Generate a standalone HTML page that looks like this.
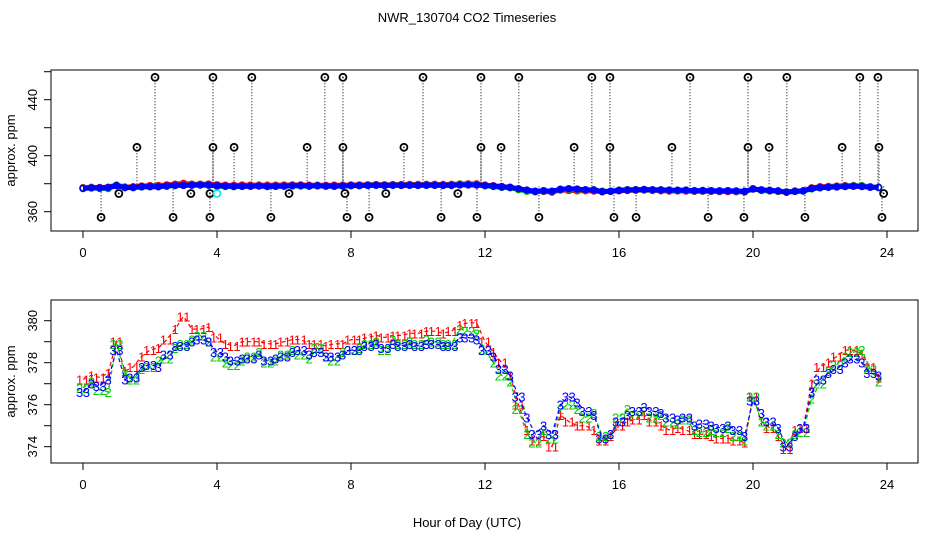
<!DOCTYPE html>
<html><head><meta charset="utf-8"><style>
body{margin:0;background:#fff}
svg text{font-family:"Liberation Sans",sans-serif;font-size:13px}
</style></head><body>
<svg id="chart" width="936" height="540" xmlns="http://www.w3.org/2000/svg">
<rect width="936" height="540" fill="#fff"/>
<text x="467" y="22" text-anchor="middle">NWR_130704  CO2 Timeseries</text>
<text x="467" y="527" text-anchor="middle">Hour of Day (UTC)</text>
<g id="topPanel"></g>
<g id="botPanel"></g>
</svg>
<script>
const hours=[0,0.25,0.5,0.75,1,1.25,1.5,1.75,2,2.25,2.5,2.75,3,3.25,3.5,3.75,4,4.25,4.5,4.75,5,5.25,5.5,5.75,6,6.25,6.5,6.75,7,7.25,7.5,7.75,8,8.25,8.5,8.75,9,9.25,9.5,9.75,10,10.25,10.5,10.75,11,11.25,11.5,11.75,12,12.25,12.5,12.75,13,13.25,13.5,13.75,14,14.25,14.5,14.75,15,15.25,15.5,15.75,16,16.25,16.5,16.75,17,17.25,17.5,17.75,18,18.25,18.5,18.75,19,19.25,19.5,19.75,20,20.25,20.5,20.75,21,21.25,21.5,21.75,22,22.25,22.5,22.75,23,23.25,23.5,23.75];
const series3=[376.6,377.0,376.9,377.2,378.6,377.2,377.3,377.8,377.9,377.8,378.4,378.8,378.8,379.0,379.1,379.0,378.5,378.3,378.1,378.2,378.2,378.4,378.1,378.2,378.3,378.5,378.6,378.4,378.5,378.3,378.3,378.4,378.6,378.6,378.8,378.9,378.7,378.9,378.8,378.9,378.8,378.9,378.9,378.8,378.8,379.2,379.2,379.1,378.6,378.3,377.7,377.4,376.4,375.4,374.6,375.0,374.6,376.0,376.4,376.1,375.7,375.5,374.4,374.6,375.2,375.5,375.7,375.9,375.7,375.6,375.4,375.3,375.4,375.0,375.1,375.0,374.9,375.0,374.8,374.5,376.2,375.6,375.2,374.9,374.0,374.5,374.9,376.6,377.2,377.5,377.7,378.0,378.2,378.0,377.5,377.4];
const series1=[377.2,377.4,377.3,377.5,379.0,377.6,377.8,378.3,378.6,378.7,379.1,379.6,380.2,379.6,379.6,379.7,379.2,378.9,378.8,379.0,379.0,379.0,378.9,378.9,379.0,379.1,379.1,378.9,378.9,378.8,378.9,378.9,379.1,379.1,379.2,379.3,379.2,379.3,379.3,379.4,379.4,379.5,379.5,379.4,379.5,379.8,379.9,379.9,379.0,378.5,378.0,377.4,376.0,374.8,374.3,374.5,374.0,375.5,375.2,375.0,375.0,374.8,374.3,374.5,375.0,375.2,375.3,375.5,375.2,375.0,374.8,374.9,374.8,374.6,374.6,374.5,374.4,374.4,374.3,374.2,376.4,375.2,374.9,374.5,373.9,374.8,374.9,377.0,377.8,378.0,378.3,378.6,378.6,378.4,377.8,377.3];
const series2=[376.8,377.1,376.7,376.6,378.9,377.5,377.2,377.7,377.8,378.1,378.2,378.7,378.9,379.1,379.3,379.0,378.3,378.0,377.9,378.1,378.3,378.5,378.0,378.1,378.4,378.6,378.4,378.2,378.7,378.3,378.1,378.5,378.6,378.7,378.9,379.0,378.6,379.1,378.9,379.0,378.9,379.1,379.0,378.9,378.9,379.6,379.5,379.4,378.6,378.0,377.4,377.1,375.8,374.6,374.2,374.8,374.4,375.8,376.0,375.8,375.4,375.6,374.5,374.6,375.4,375.8,375.5,375.7,375.4,375.5,375.2,375.1,375.3,374.8,374.7,374.8,374.7,374.9,374.5,374.3,376.4,375.2,375.0,374.6,374.2,374.6,374.7,376.3,377.0,377.6,377.9,378.3,378.5,378.6,377.7,377.1];
const outHours=[2.15,3.88,5.04,7.22,7.76,10.15,11.88,13.01,15.19,15.73,18.12,19.85,21.01,23.19,23.73,1.61,3.88,4.51,6.69,7.76,9.58,11.88,12.48,14.66,15.73,17.58,19.85,20.48,22.66,23.76,1.07,3.22,3.79,6.15,7.82,9.04,11.19,23.9,0.54,2.69,3.79,5.61,7.88,8.54,10.69,11.76,13.61,15.85,16.51,18.66,19.73,21.55,23.85];
const outValues=[456,456,456,456,456,456,456,456,456,456,456,456,456,456,456,406,406,406,406,406,406,406,406,406,406,406,406,406,406,406,373,373,373,373,373,373,373,373,356,356,356,356,356,356,356,356,356,356,356,356,356,356,356];
const xTicks=[0,4,8,12,16,20,24];
const topTicks=[360,380,400,420,440,460];
const topLabels=[360,400,440];
const botTicks=[374,375,376,377,378,379,380];
const botLabels=[374,376,378,380];

const NS="http://www.w3.org/2000/svg";
function mk(p,tag,a){const e=document.createElementNS(NS,tag);for(const k in a)e.setAttribute(k,a[k]);p.appendChild(e);return e;}
const X=h=>83+h*33.5;
const YT=v=>211.7-(v-360)*1.4;
const YB=v=>446.7-(v-374)*21;
const colors=["#ff0000","#00cc00","#0000ff"];
const allSeries=[series1,series2,series3];

function frame(g,y0,y1,ticks,labels,Y){
  const r=mk(g,'rect',{x:51,y:y0,width:867,height:y1-y0,fill:'none',stroke:'#000'});
  
  
  xTicks.forEach(t=>{
    const l=mk(g,'line',{x1:X(t),x2:X(t),y1:y1,y2:y1+7,stroke:'#000'});
    
    
    const tx=mk(g,'text',{x:X(t),y:y1+26,'text-anchor':'middle'});tx.textContent=t;
    
    
  });
  ticks.forEach(t=>{
    const l=mk(g,'line',{x1:44,x2:51,y1:Y(t),y2:Y(t),stroke:'#000'});
    
    
  });
  labels.forEach(t=>{
    const tx=mk(g,'text',{x:0,y:0,'text-anchor':'middle',transform:`translate(37,${Y(t)}) rotate(-90)`});tx.textContent=t;
    
    
  });
  const yt=mk(g,'text',{x:0,y:0,'text-anchor':'middle',transform:`translate(15,${(y0+y1)/2}) rotate(-90)`});yt.textContent='approx. ppm';
  
  
}
const topG=document.getElementById('topPanel'),botG=document.getElementById('botPanel');
frame(topG,70,231,topTicks,topLabels,YT);
frame(botG,300,463,botTicks,botLabels,YB);

outHours.forEach((h,i)=>{
  const v=outValues[i];
  const l=mk(topG,'line',{x1:X(h),x2:X(h),y1:YT(v),y2:YT(378),stroke:'#000','stroke-dasharray':'1,2'});
  
  
});
allSeries.forEach((s,si)=>{
  const pl=mk(topG,'polyline',{points:s.map((v,i)=>X(hours[i])+','+YT(v)).join(' '),fill:'none',stroke:colors[si],'stroke-width':5});
  
  
  s.forEach((v,i)=>{
    const c=mk(topG,'circle',{cx:X(hours[i]),cy:YT(v),r:3,fill:'none',stroke:colors[si],'stroke-width':1.5});
    
    
  });
});
outHours.forEach((h,i)=>{
  const c=mk(topG,'circle',{cx:X(h),cy:YT(outValues[i]),r:3.5,fill:'none',stroke:'#000','stroke-width':1.8});
  
  
  const d=mk(topG,'circle',{cx:X(h),cy:YT(outValues[i]),r:0.8,fill:'#000'});
  
  
});
const cy=mk(topG,'circle',{cx:X(4),cy:YT(373),r:3.5,fill:'none',stroke:'#00e5e5','stroke-width':1.6});



allSeries.forEach((s,si)=>{
  const pl=mk(botG,'polyline',{points:s.map((v,i)=>X(hours[i])+','+YB(v)).join(' '),fill:'none',stroke:colors[si],'stroke-width':1.2,'stroke-dasharray':'4,3'});
  
  
  s.forEach((v,i)=>{
    const offs=(i%2===0)?[-0.1,0.1]:[0];
    offs.forEach(dx=>{
      const t=mk(botG,'text',{x:X(hours[i]+dx),y:YB(v)+5,'text-anchor':'middle',fill:colors[si],'font-size':'14px'});
      t.textContent=String(si+1);
      
      
    });
  });
});
</script>
</body></html>
